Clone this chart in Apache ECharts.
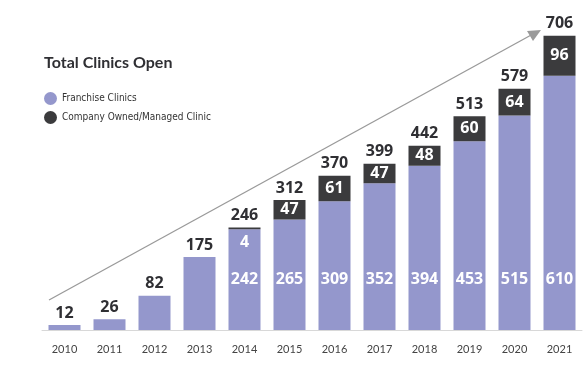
<!DOCTYPE html>
<html><head><meta charset="utf-8">
<script src="https://cdn.jsdelivr.net/npm/echarts@6/dist/echarts.min.js"></script>
<style>html,body{margin:0;padding:0;background:#fff}#c{width:587px;height:366px}</style>
</head><body><div id="c"></div>
<script>
const years = ['2010','2011','2012','2013','2014','2015','2016','2017','2018','2019','2020','2021'];
const franchise = [12,26,82,175,242,265,309,352,394,453,515,610];
const company = [0,0,0,0,4,47,61,47,48,60,64,96];
const totals = [12,26,82,175,246,312,370,399,442,513,579,706];
const showInside = [false,false,false,false,true,true,true,true,true,true,true,true];

const chart = echarts.init(document.getElementById('c'), null, {renderer:'canvas'});
const numFont = 'Open Sans';
chart.setOption({
  backgroundColor:'#fff',
  animation:false,
  title:{text:'Total Clinics Open',left:39,top:50,textStyle:{fontFamily:'Lato',fontWeight:'bold',fontSize:16,color:'#2f2f33'}},
  legend:{orient:'vertical',left:39,top:87,itemWidth:13,itemHeight:13,itemGap:6,icon:'circle',
    textStyle:{fontFamily:'DejaVu Sans Condensed, Liberation Sans Narrow, sans-serif',fontSize:10,color:'#333'},
    data:['Franchise Clinics','Company Owned/Managed Clinic']},
  grid:{left:42,right:5,top:30,bottom:36},
  xAxis:{type:'category',data:years,axisTick:{show:false},
    axisLine:{lineStyle:{color:'#d8d8d8',width:1}},
    axisLabel:{fontFamily:'Lato',fontSize:11,color:'#444',margin:14}},
  yAxis:{type:'value',min:0,max:720,show:false,splitLine:{show:false}},
  series:[
    {name:'Franchise Clinics',type:'bar',stack:'a',barWidth:32,itemStyle:{color:'#9497cc'},
     data:franchise.map((v,i)=>({value:v,label:{show:showInside[i]}})),
     label:{position:'insideBottom',distance:43,color:'#fff',fontFamily:numFont,fontWeight:'bold',fontSize:16}},
    {name:'Company Owned/Managed Clinic',type:'bar',stack:'a',barWidth:32,itemStyle:{color:'#3b3b3d'},
     data:company.map((v,i)=>({value:v,label:{show:v>0}})),
     label:{position:'inside',color:'#fff',fontFamily:numFont,fontWeight:'bold',fontSize:16},
     labelLayout:p=>(p.rect.height<6?{dy:14}:{}),
     labelLine:{show:true,lineStyle:{color:'#fff',width:1}}},
    {name:'total',type:'bar',stack:'a',barWidth:32,itemStyle:{color:'transparent'},
     data:totals.map(()=>0),
     label:{show:true,position:'top',distance:4,color:'#2f2f33',fontFamily:numFont,fontWeight:'bold',fontSize:16,
       formatter:p=>String(totals[p.dataIndex])}}
  ],
  graphic:[
    {type:'line',shape:{x1:49,y1:300,x2:533,y2:34},style:{stroke:'#9a9a9a',lineWidth:1.3},z:1},
    {type:'polygon',shape:{points:[[541,30],[527,31],[533,41]]},style:{fill:'#9a9a9a'},z:1}
  ]
});
</script></body></html>
